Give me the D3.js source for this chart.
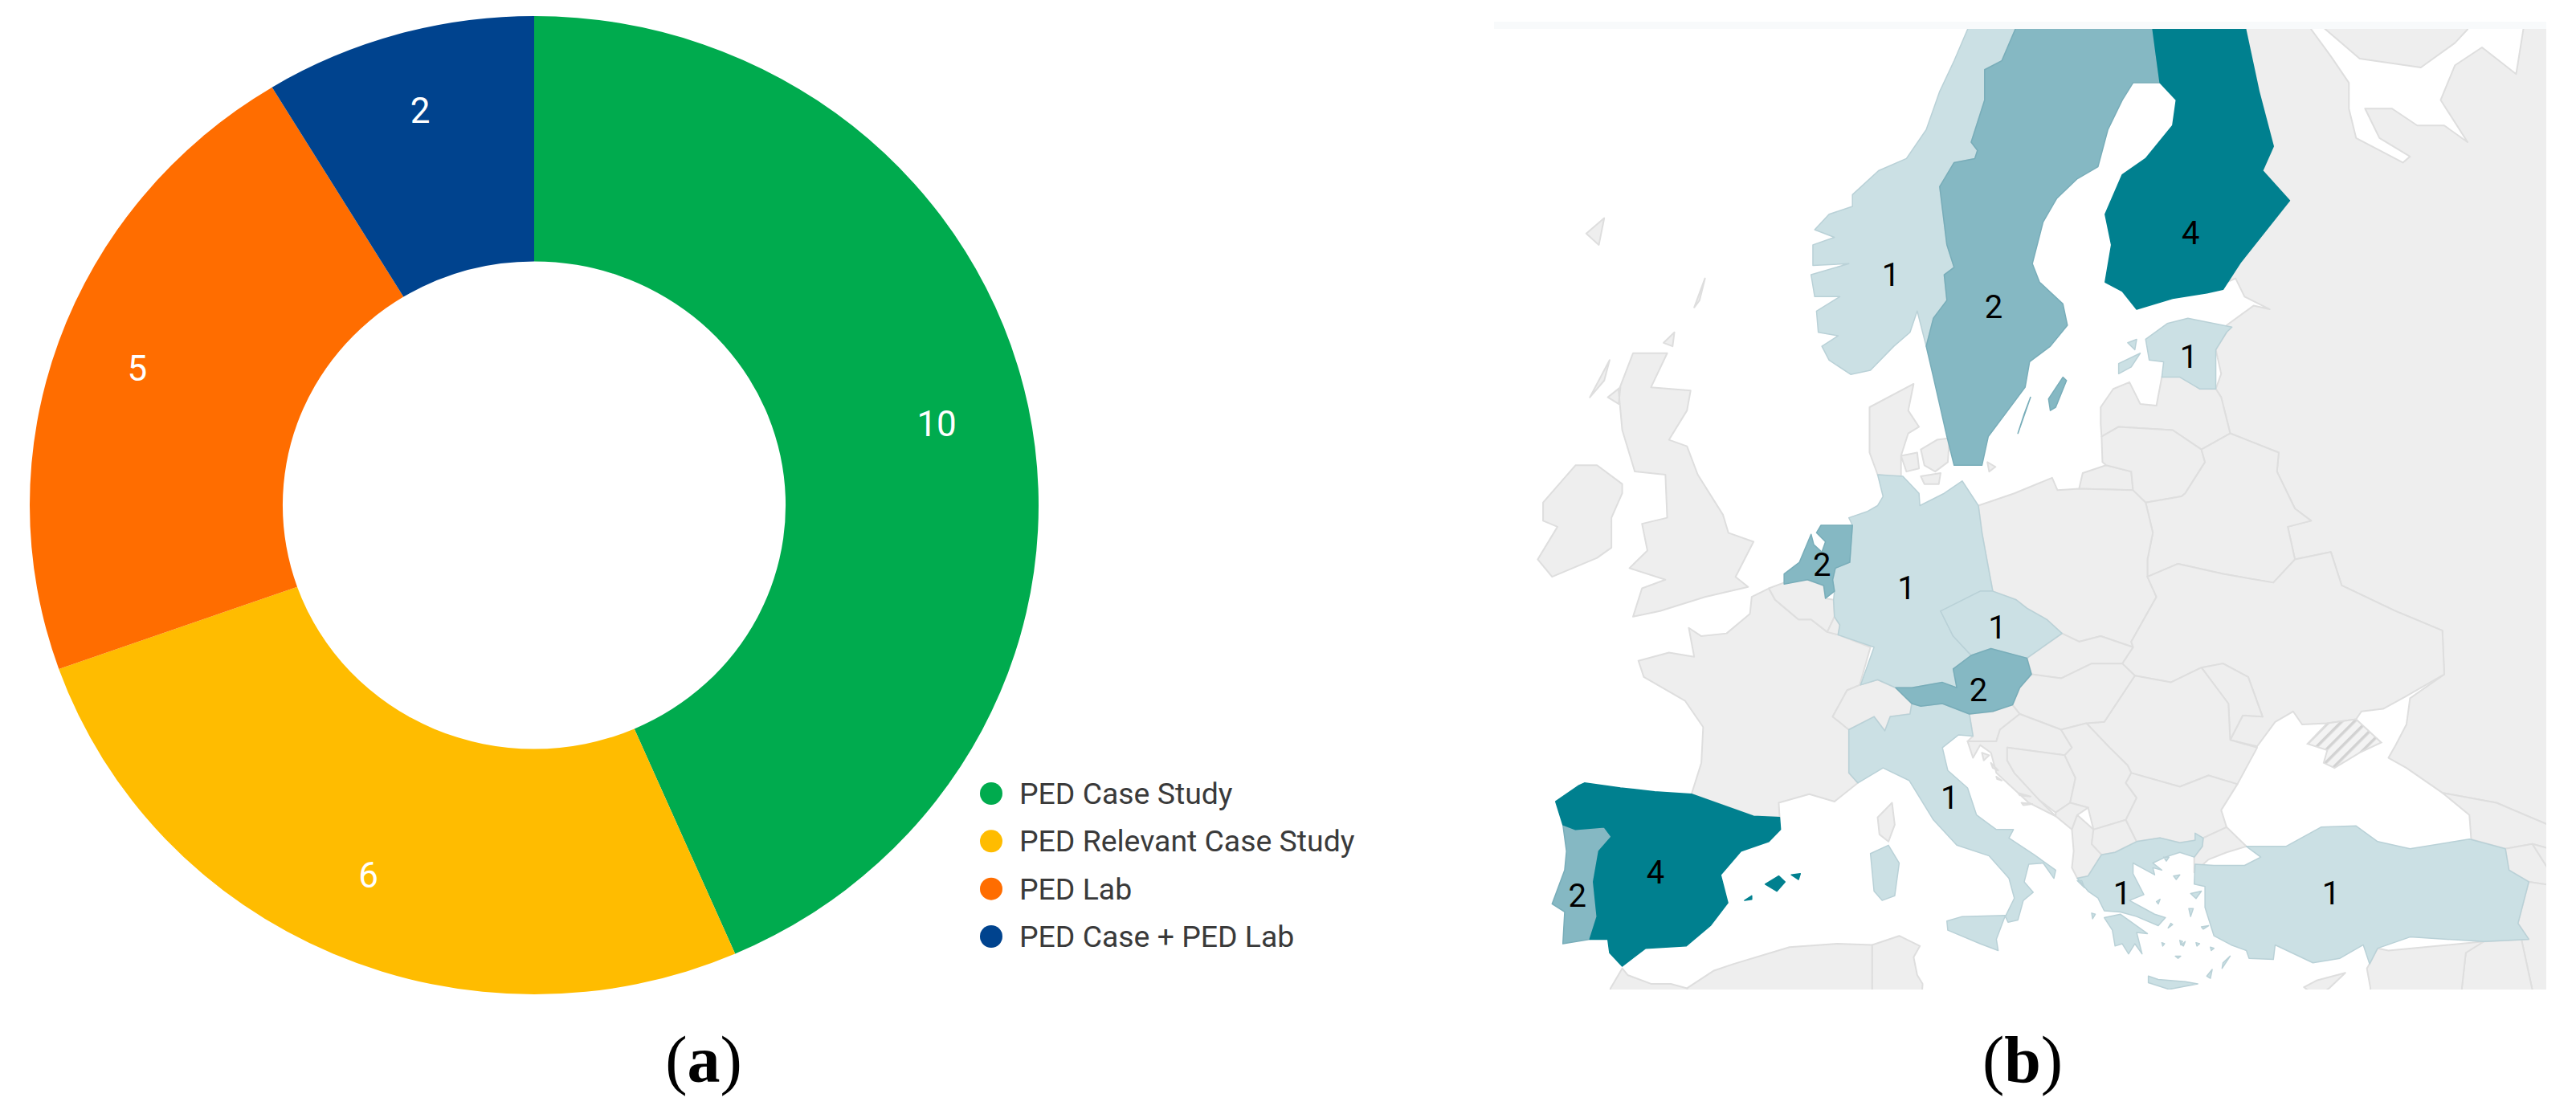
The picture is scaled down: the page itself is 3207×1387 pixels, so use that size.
<!DOCTYPE html>
<html>
<head>
<meta charset="utf-8">
<script src="https://cdn.jsdelivr.net/npm/d3@7"></script>
<style>
  html, body { margin: 0; background: #fff; }
  svg { display: block; }
</style>
</head>
<body>
<div id="chart"></div>
<script>
// (a) donut data
const caseTypes = ["PED Case Study", "PED Relevant Case Study", "PED Lab", "PED Case + PED Lab"];
const caseCounts = [10, 6, 5, 2];
const caseColors = ["#00ab4e", "#ffbc00", "#ff6d00", "#00438e"];

// (b) choropleth data, one count per labelled country
const labelNames = ["Finland", "Norway", "Sweden", "Estonia", "Germany", "Netherlands", "Czechia", "Austria", "Italy", "Spain", "Portugal", "Greece", "Turkey"];
const labelCounts = [4, 1, 2, 1, 1, 2, 1, 2, 1, 4, 2, 1, 1];
const labelLonLat = [[26, 61.9], [9.33, 60.8], [15.05, 59.9], [25.9, 58.5], [10.2, 51.1], [5.5, 51.9], [15.25, 49.7], [14.2, 47.4], [12.6, 43.2], [-3.75, 40.1], [-8.1, 39.1], [22.2, 39.2], [33.8, 39.2]];
const countColors = ["#cbe0e4", "#85b8c3", "#85b8c3", "#00808f"];
const countStrokes = ["#b9d1d7", "#78adb9", "#78adb9", "#00808f"];

// country outlines, lon/lat, rough hand-read
const greyLand = {
  Russia: [[[28,59.4],[29.5,59.95],[30.4,59.85],[29,60.2],[28.5,60.7],[27.8,60.55],[28.8,61.15],[31.5,62.75],[30,63.5],[30.6,64.1],[29.8,65.4],[29.06,66.8],[29.9,68],[32.4,68],[32.7,66.8],[33.8,66.2],[34.8,65.6],[34.8,65],[35.2,64.3],[36.5,64],[37.8,63.7],[38.2,63.85],[36.5,64.3],[35.7,65],[37.2,65],[38.6,64.6],[40.1,64.6],[41.4,64.2],[39.9,65.2],[40.7,66],[42.2,66.4],[44.1,65.8],[44.5,66.8],[44,68],[47,68],[47,41.9],[46.5,41.9],[43,43],[40,43.4],[38,44.4],[37,44.8],[37.4,45.3],[38,46.1],[38.2,47.1],[40.1,48],[40,49.6],[37.4,50.3],[34.4,51.2],[33.8,52.35],[31.8,52.1],[31.4,53.2],[32.7,53.4],[31.8,53.8],[30.8,55],[30.9,55.6],[28.2,56.2],[27.7,57.3],[27.4,57.55],[27.7,58],[27.4,58.7],[28,59.2]],
    [[33.1,68],[33.2,66.9],[35.4,66.15],[38.8,65.95],[40.7,66.5],[41.4,66.8],[41.5,68]],
    [[19.8,54.45],[22.8,54.4],[22.7,55],[21.3,55.2],[20,54.95]]],
  Latvia: [[[21,56.5],[21,57],[21.7,57.55],[22.6,57.75],[23.2,57.1],[24.1,57.05],[24.4,57.9],[25.3,58],[26.5,57.55],[27.4,57.55],[27.7,57.3],[28.2,56.2],[26.6,55.7],[25,56.3],[22,56.4],[21.05,56.1]]],
  Lithuania: [[[21.05,56.1],[22,56.4],[25,56.3],[26.6,55.7],[26.8,55.3],[25.7,54.3],[25.5,54.2],[23.5,54],[22.8,54.4],[22.7,55],[21.3,55.2],[21.1,55.3]]],
  Belarus: [[[23.6,52.1],[23.9,53],[23.5,54],[25.5,54.2],[25.7,54.3],[26.8,55.3],[26.6,55.7],[28.2,56.2],[30.9,55.6],[30.8,55],[31.8,53.8],[32.7,53.4],[31.4,53.2],[31.8,52.1],[30.6,51.3],[27.8,51.6],[25.3,51.95],[23.6,51.5]]],
  Poland: [[[14.2,53.9],[16.2,54.3],[18.3,54.8],[18.6,54.4],[19.8,54.45],[22.8,54.4],[23.5,54],[23.9,53],[23.6,52.1],[23.6,51.5],[24.1,50.8],[22.7,49.2],[22.8,49],[21,49.4],[19.8,49.2],[18.85,49.5],[18,50],[16.9,50.4],[16.3,50.7],[15,51],[14.7,52],[14.4,53]]],
  Ukraine: [[[22.8,49],[22.7,49.2],[24.1,50.8],[23.6,51.5],[25.3,51.95],[27.8,51.6],[30.6,51.3],[31.8,52.1],[33.8,52.35],[34.4,51.2],[37.4,50.3],[40,49.6],[40.1,48],[37.9,47.15],[36.7,46.7],[35.5,46.6],[35.2,46.3],[33.6,46.15],[32.2,46.1],[31.7,46.6],[30.7,46.2],[29.7,45.25],[28.2,45.5],[28.9,46.45],[30,46.4],[29.2,47.9],[27.8,48.4],[26.6,48.25],[24.9,47.7],[22.9,47.95],[22.2,48.4]]],
  Moldova: [[[26.6,48.25],[27.8,48.4],[29.2,47.9],[30,46.4],[28.9,46.45],[28.2,45.5],[28.1,46.9]]],
  Romania: [[[22.9,47.95],[24.9,47.7],[26.6,48.25],[28.1,46.9],[28.2,45.5],[29.7,45.2],[28.6,43.75],[27,44.1],[25.4,43.65],[22.7,44.2],[22.5,44.5],[21.5,45.2],[20.2,46.15],[21.2,46.2]]],
  Slovakia: [[[16.9,48.6],[18.85,49.5],[19.8,49.2],[21,49.4],[22.8,49],[22.2,48.4],[20.5,48.4],[18.8,47.85],[17.15,48]]],
  Hungary: [[[16.1,46.85],[16.5,47.5],[17.15,48],[18.8,47.85],[20.5,48.4],[22.2,48.4],[22.9,47.95],[21.2,46.2],[20.2,46.15],[18.8,45.9],[16.5,46.5]]],
  Slovenia: [[[13.7,46.5],[15,46.6],[16.1,46.85],[16.5,46.5],[15.4,45.9],[15.2,45.45],[13.6,45.45],[13.9,45.65]]],
  Croatia: [[[13.6,45.45],[15.2,45.45],[15.4,45.9],[16.5,46.5],[18.8,45.9],[19.4,45.2],[19,44.9],[15.8,45.2],[15.8,44.7],[16.2,44.2],[17.6,43.1],[18.5,42.45],[17,43],[15.2,44.2],[14.9,45],[14.3,45.3],[13.9,44.8]],
    [[14.4,45],[14.8,44.9],[14.5,44.7]], [[14.9,44.6],[15.3,44.3],[15,44.4]], [[16.4,43.4],[17.1,43.25],[16.5,43.3]], [[16.6,43],[17.2,42.95],[16.7,42.9]], [[15.2,44.05],[15.5,43.9],[15.25,43.95]]],
  Bosnia: [[[15.8,45.2],[19,44.9],[19.6,44],[19.3,43],[18.5,42.6],[17.6,43.1],[16.2,44.2],[15.8,44.7]]],
  Serbia: [[[18.8,45.9],[20.2,46.15],[21.5,45.2],[22.5,44.5],[22.7,44.2],[22.4,43.8],[23,43.2],[22.4,42.3],[20.6,41.9],[20.3,42.8],[19.3,43],[19.6,44],[19,44.9],[19.4,45.2]]],
  Montenegro: [[[18.5,42.6],[19.3,43],[20.3,42.8],[19.7,42.5],[19.4,41.9],[18.5,42.45]]],
  Albania: [[[19.4,41.9],[19.7,42.5],[20.6,41.9],[20.5,41.3],[21.05,40.85],[20.3,39.95],[19.7,39.85],[19.4,40.3],[19.5,41]]],
  Macedonia: [[[20.6,41.9],[22.4,42.3],[23,41.4],[21.8,40.95],[21.05,40.85],[20.5,41.3]]],
  Bulgaria: [[[22.4,42.3],[23,43.2],[22.4,43.8],[22.7,44.2],[25.4,43.65],[27,44.1],[28.6,43.75],[27.7,42.7],[28,42],[26.7,41.55],[26.25,41.45],[25.4,41.35],[24.3,41.55],[23,41.4]]],
  Thrace: [[[26.2,40.75],[26.65,41.2],[26.7,41.55],[28,42],[29.1,41.2],[28,40.95],[27,40.65],[26.2,40.1]]],
  France: [[[2.55,51.1],[2.9,50.7],[4.2,50],[4.9,50],[5.8,49.55],[6.4,49.45],[8.2,49],[7.6,47.6],[6.9,47.4],[6.1,46.4],[7,45.9],[7,44.2],[7.5,43.8],[6.2,43.05],[4.8,43.35],[3.1,43],[3.15,42.4],[1.7,42.45],[-1.75,43.35],[-1.2,44.6],[-1.1,46],[-2.1,47],[-4.4,47.9],[-4.7,48.5],[-3,48.8],[-1.6,48.65],[-1.9,49.7],[-1.2,49.4],[0.2,49.5],[1.5,50.2],[1.6,50.8]],
    [[8.6,42.4],[9.4,43],[9.55,42.1],[9.2,41.4],[8.7,41.7]]],
  Belgium: [[[2.55,51.1],[3.4,51.3],[4.7,51.4],[5.6,51.2],[5.7,50.75],[6.15,50.7],[6.2,50.1],[5.8,49.55],[4.9,50],[4.2,50],[2.9,50.7]]],
  Luxembourg: [[[5.8,49.55],[6.2,50.1],[6.5,49.8],[6.4,49.45]]],
  Switzerland: [[[6.1,46.4],[6.9,47.4],[7.6,47.6],[8.6,47.8],[9.6,47.5],[10.5,46.9],[10.4,46.5],[9.3,46.4],[9,45.85],[8.4,46.4],[7,45.9]]],
  Denmark: [[[8.6,54.9],[8.15,55.6],[8.15,57],[10.6,57.7],[10.3,56.9],[10.9,56.4],[10.3,56.2],[9.9,55.5],[9.9,54.8]],
    [[9.9,55.5],[10.8,55.6],[10.9,55.1],[10.2,55]], [[11,55.7],[11.9,56],[12.6,56.05],[12.5,55.3],[11.8,55],[11.2,55.2]], [[11,54.85],[12.1,54.95],[12,54.6],[11.2,54.6]], [[14.7,55.3],[15.15,55.15],[14.8,55]]],
  Ireland: [[[-10,54],[-8.2,55.2],[-7,55.2],[-5.6,54.6],[-5.6,54.3],[-6.2,53.5],[-6.2,52.5],[-7,52.15],[-9.5,51.5],[-10.3,52.1],[-9.2,53.2],[-10,53.4]]],
  Britain: [[[-5,50.1],[-3.5,50.3],[-1,50.8],[1.4,51.15],[0.7,51.5],[1.7,52.7],[0.3,53],[0,53.6],[-1.4,54.9],[-2,55.8],[-3,56],[-2,56.9],[-1.8,57.5],[-4,57.6],[-3.1,58.6],[-5,58.6],[-5.8,57.5],[-5.6,56.3],[-4.9,55],[-3.2,54.9],[-3.1,53.5],[-4.5,53.3],[-4.2,52.4],[-5.2,51.8],[-3.2,51.4],[-4.5,51.1]],
    [[-7.4,57.3],[-6.3,58.4],[-6.6,57.8]], [[-6.4,57.3],[-5.7,57.6],[-5.8,57.1]], [[-3.3,58.9],[-2.7,59.2],[-2.8,58.8]], [[-1.6,59.9],[-1,60.7],[-1.3,60.1]], [[-7.6,61.9],[-6.6,62.3],[-6.9,61.6]]],
  Georgia: [[[40,43.4],[43,43],[46.5,41.9],[46,41.1],[45,41.3],[43.5,41.1],[41.6,41.5],[41.5,42.5]]],
  Armenia: [[[43.5,41.1],[45,41.3],[46.5,39.5],[44.8,39.7],[43.7,40.2]]],
  Azerbaijan: [[[46,41.1],[46.5,41.9],[50,40],[50,38],[46.5,39],[46.5,39.5],[45,41.3]]],
  Iran: [[[44.8,39.7],[46.5,39.5],[46.5,39],[50,38],[50,30],[45.5,33],[44.2,37.9]]],
  Iraq: [[[44.8,37.2],[44.2,37.9],[45.5,33],[50,30],[42,30],[38.8,33.4],[41,34.4],[41.3,36.6],[42.3,37.1]]],
  Syria: [[[36.4,36.8],[37,36.7],[42.3,37.1],[41.3,36.6],[41,34.4],[38.8,33.4],[35.9,33.4],[36,35],[35.8,35.9],[35.95,36.1]]],
  Cyprus: [[[32.3,35.05],[33,35.35],[34.6,35.7],[33.7,35],[33,34.6]]],
  Morocco: [[[-6.25,35],[-5.6,35.9],[-5.3,35.6],[-4,35.2],[-2.9,35.2],[-2,35],[-1.6,34],[-6.5,34]]],
  Algeria: [[[-2,35],[-0.5,35.8],[0.6,36.1],[3.7,36.85],[6.35,37],[8.3,36.95],[8.3,34],[-1.6,34]]],
  Tunisia: [[[8.3,36.95],[9.8,37.35],[10.95,36.9],[10.6,36.4],[10.8,35.6],[11.1,35.2],[11,34],[8.3,34]]]
};

const colouredLand = {
  Finland: [[[24.3,65.6],[25.2,65.2],[25,64.6],[23.5,63.8],[22.2,63.4],[21.25,62.4],[21.6,61.6],[21.25,60.6],[22.2,60.35],[23,59.85],[25,60.15],[26.9,60.3],[27.8,60.4],[28.8,61.15],[31.5,62.75],[30,63.5],[30.6,64.1],[29.8,65.4],[29.06,66.8],[29.9,68],[23.6,68],[23.9,66.8],[24.1,66.2]]],
  Norway: [[[11.3,58.8],[10.8,59.8],[10.4,59.2],[9.5,58.8],[8.2,58.1],[7.1,57.98],[5.9,58.4],[5.5,58.8],[6.4,59.1],[5.3,59.2],[5.2,59.8],[6.5,60.2],[5.1,60.2],[4.9,60.8],[7,61.1],[5,61.05],[5,61.6],[6.2,61.8],[5.1,62],[5.9,62.4],[7.2,62.6],[7.2,62.9],[8.65,63.5],[10.2,63.8],[11.3,64.5],[12.05,65.4],[12.85,66.1],[13.6,66.8],[14.5,68],[16.3,68],[16.25,66.8],[15.5,66.1],[14.55,65.9],[14.55,65.2],[13.8,64.2],[14.15,64],[14,63.8],[12.85,63.7],[12.05,63.1],[12.45,61.6],[12.85,61],[12.3,60.8],[12.45,60.1],[11.7,59.6]]],
  Sweden: [[[24.3,65.6],[22.8,65.6],[22.2,65.2],[21.4,64.5],[20.85,63.6],[19.7,63.3],[18.55,62.8],[17.8,62.2],[17.2,61.1],[17.6,60.6],[18.9,60],[19.15,59.4],[18.2,58.8],[17.05,58.35],[16.8,57.6],[14.75,56.1],[14.4,55.2],[12.85,55.2],[12.45,56.1],[11.7,57.9],[11.3,58.8],[11.7,59.6],[12.45,60.1],[12.3,60.8],[12.85,61],[12.45,61.6],[12.05,63.1],[12.85,63.7],[14,63.8],[14.15,64],[13.8,64.2],[14.55,65.2],[14.55,65.9],[15.5,66.1],[16.25,66.8],[16.3,68],[23.6,68],[23.9,66.8],[24.1,66.2]],
    [[18.1,57.25],[18.9,57.9],[19.1,57.8],[18.5,57],[18.2,56.9]], [[16.4,56.2],[17.1,57.3],[16.75,56.8]]],
  Estonia: [[[28.3,59.35],[25.85,59.6],[24.7,59.45],[23.5,59],[23.7,58.4],[24.5,58.35],[24.4,57.9],[25.4,57.9],[26.5,57.55],[27.4,57.55],[27.4,58],[27.4,58.7],[28,59.2]],
    [[22,58.3],[23.2,58.6],[22.7,58.2],[22,58]], [[22.5,58.9],[23,59],[22.9,58.7]]],
  Germany: [[[8.6,54.9],[10,54.85],[10.9,54.3],[10.95,53.9],[12.3,54.3],[13.3,54.7],[14.2,53.9],[14.4,53],[14.7,52],[15,51],[14.3,51],[12.1,50.3],[12.8,49.4],[13.8,48.7],[12.8,48.2],[13,47.5],[12.2,47.7],[10.5,47.5],[9.6,47.5],[8.6,47.8],[7.65,47.6],[8.4,49],[6.4,49.45],[6.5,49.8],[6.2,50.1],[6.15,50.7],[6.2,51],[6.1,51.4],[6.25,51.8],[7.05,52],[7.2,53.25],[7,53.5],[8,53.7],[8.6,53.9],[8.9,54.2]]],
  Netherlands: [[[3.4,51.25],[3.4,51.6],[4.25,52],[4.9,52.95],[5.05,52.6],[5.5,52.35],[5.7,52.7],[5.2,53],[5.45,53.25],[7.2,53.25],[7.05,52],[6.25,51.8],[6.1,51.4],[6.2,51],[5.7,50.75],[5.6,51.2],[4.7,51.4]]],
  Czechia: [[[12.1,50.3],[14.3,51],[15,51],[16.3,50.7],[16.9,50.4],[18,50],[18.85,49.5],[16.9,48.6],[14.9,48.95],[13.8,48.7],[12.8,49.4]]],
  Austria: [[[9.6,47.5],[10.5,47.5],[12.2,47.7],[13,47.5],[12.8,48.2],[13.8,48.7],[14.9,48.95],[16.9,48.6],[17.15,48],[16.5,47.5],[16.1,46.85],[15,46.6],[13.7,46.5],[12.2,46.9],[11,46.8],[10.5,46.9]]],
  Italy: [[[7,44.2],[7,45.9],[8.4,46.4],[9,45.85],[9.3,46.4],[10.4,46.5],[10.5,46.9],[11,46.8],[12.2,46.9],[13.7,46.5],[13.9,45.65],[13.1,45.7],[12.2,45.2],[12.5,44.3],[13.6,43.6],[14.1,42.5],[15.2,41.9],[16.15,41.9],[15.9,41.55],[17.3,40.85],[18.5,40.2],[18.4,39.85],[17.8,40.5],[17,40.45],[16.75,39.7],[17.25,39.25],[16.7,38.9],[16.4,38.05],[15.85,37.95],[15.7,38.2],[16.2,39],[15.9,39.85],[14.8,40.8],[13,41.25],[11.7,42.3],[10.35,43.9],[8.9,44.4],[7.5,43.8]],
    [[12.45,38],[13.3,38.2],[15.7,38.25],[15.2,37.2],[15.3,36.7],[14.3,37],[12.5,37.6]], [[8.2,40.9],[9.2,41.25],[9.8,40.5],[9.55,39.1],[8.85,38.9],[8.4,39.3]]],
  Spain: [[[-9.3,43.05],[-8,43.7],[-7.7,43.8],[-5.7,43.6],[-3.8,43.45],[-1.75,43.35],[1.7,42.45],[3.15,42.4],[3.2,41.9],[2.55,41.4],[1,41],[-0.13,40],[0.27,38.8],[-0.7,37.8],[-2.05,36.9],[-4.3,36.8],[-5.6,36],[-6.3,36.6],[-6.4,37.2],[-7.4,37.2],[-7,38.2],[-7.2,39.7],[-6.9,41],[-6.2,41.6],[-6.6,42],[-8.2,41.9],[-8.9,42.1]],
    [[2.35,39.6],[3.1,39.95],[3.45,39.7],[3,39.3]], [[3.8,40],[4.3,40.05],[4.2,39.8]], [[1.2,38.9],[1.6,39.1],[1.6,38.95]]],
  Portugal: [[[-8.9,42.1],[-8.2,41.9],[-6.6,42],[-6.2,41.6],[-6.9,41],[-7.2,39.7],[-7,38.2],[-7.4,37.2],[-8.9,37],[-8.8,38.4],[-9.5,38.75],[-8.8,40.2],[-8.7,41]]],
  Greece: [[[19.7,39.85],[20.3,39.95],[21.05,40.85],[21.8,40.95],[23,41.4],[24.3,41.55],[25.4,41.35],[26.25,41.45],[26.25,41.75],[26.7,41.55],[26.65,41.2],[26.2,40.75],[25.4,40.95],[24.6,40.75],[23.9,40.5],[24.4,40.2],[23.9,40.3],[24,40],[23.4,40.25],[22.8,40.5],[22.8,40.05],[23.4,39.15],[22.6,38.9],[24,38.3],[24.6,38.15],[24.2,37.8],[23,38.2],[22.1,38.4],[21.2,38.45],[20.85,39],[20.3,39.3]],
    [[21.2,38.15],[22.1,38.3],[23.6,37.45],[23,37.5],[23.3,36.55],[22.9,37],[22.55,36.55],[22.2,37],[21.8,36.9],[21.65,37.6]],
    [[23.65,35.55],[24.2,35.4],[25.7,35.3],[26.4,35.2],[24.8,34.95],[23.65,35.25]],
    [[26,39.2],[26.6,39.3],[26.3,38.98]], [[25.9,38.55],[26.15,38.55],[26,38.2]], [[26.6,37.75],[27,37.8],[26.7,37.65]],
    [[27.8,36.15],[28.2,36.45],[27.75,35.9]], [[25.4,37.15],[25.55,37.1],[25.45,36.95]], [[24.9,37.9],[25,37.85],[24.75,37.7]], [[25.15,36.45],[25.45,36.45],[25.3,36.35]], [[20.5,38.35],[20.7,38.3],[20.55,38.1]], [[19.7,39.75],[19.95,39.75],[20.1,39.45]], [[24.5,40.75],[24.8,40.75],[24.65,40.58]], [[25.05,39.95],[25.4,40],[25.2,39.8]], [[27.1,36.85],[27.3,36.8],[27.15,36.7]], [[26.9,35.55],[27.2,35.85],[27.1,35.45]], [[24.4,37.05],[24.55,37],[24.45,36.9]], [[26.3,37.05],[26.5,37],[26.35,36.9]], [[24.1,38.85],[24.3,38.95],[24.2,38.75]], [[25.5,36.95],[25.7,37.1],[25.6,36.9]]],
  Turkey: [[[29.1,41.2],[31.3,41.2],[33.25,42],[35.2,42.05],[36.4,41.4],[38.2,41.1],[41.5,41.5],[43.5,41.1],[43.7,40.2],[44.8,39.7],[44.2,37.9],[44.8,37.2],[42.3,37.1],[38.2,37.3],[36.4,36.8],[35.95,36.1],[35.6,36.95],[34.3,36.35],[32.8,36.15],[30.7,36.95],[30.6,36.3],[29.25,36.35],[29.1,36.7],[28.25,36.95],[27.3,37.35],[26.8,38.6],[26.8,39.5],[26.2,39.6],[26.25,40.45],[27.3,40.4],[29,40.4],[29.9,40.75]]]
};

const crimea = [[33.6,46.15],[35.2,46.3],[36.6,45.4],[35.4,45],[34,44.4],[33.4,44.6],[33.6,45.1],[32.5,45.35]];

const pageWidth = 3207;
const pageHeight = 1387;

const svg = d3.select("#chart")
  .append("svg")
  .attr("width", pageWidth)
  .attr("height", pageHeight)
  .attr("viewBox", `0 0 ${pageWidth} ${pageHeight}`);

const defs = svg.append("defs");

defs.append("clipPath")
  .attr("id", "map-clip")
  .append("rect")
  .attr("x", 1860)
  .attr("y", 36)
  .attr("width", 1310)
  .attr("height", 1196);

const hatch = defs.append("pattern")
  .attr("id", "hatch")
  .attr("patternUnits", "userSpaceOnUse")
  .attr("width", 11)
  .attr("height", 11)
  .attr("patternTransform", "rotate(-45)");
hatch.append("rect").attr("width", 11).attr("height", 11).attr("fill", "#f3f3f3");
hatch.append("rect").attr("width", 11).attr("height", 3.5).attr("fill", "#d2d2d2");

// Donut, panel (a). The picture is a bit wider than tall so the arcs get squeezed.
const donut = {cx: 665, cy: 629, rx: 628, ry: 609, innerRatio: 0.4985};
const labelRatios = [0.815, 0.825, 0.835, 0.838];
const pie = d3.pie().sort(null)(caseCounts);
const arc = d3.arc().innerRadius(donut.rx * donut.innerRatio).outerRadius(donut.rx);
const squeeze = donut.ry / donut.rx;

function labelPoint(d, i) {
  const r = donut.rx * labelRatios[i];
  return d3.arc().innerRadius(r).outerRadius(r).centroid(d);
}

const donutG = svg.append("g")
  .attr("transform", `translate(${donut.cx},${donut.cy})`);

donutG.append("g")
  .attr("transform", `scale(1,${squeeze})`)
  .selectAll("path")
  .data(pie)
  .enter()
  .append("path")
  .attr("d", arc)
  .attr("fill", (d, i) => caseColors[i]);

donutG.selectAll("text")
  .data(pie)
  .enter()
  .append("text")
  .attr("x", (d, i) => labelPoint(d, i)[0])
  .attr("y", (d, i) => labelPoint(d, i)[1] * squeeze)
  .attr("text-anchor", "middle")
  .attr("dominant-baseline", "central")
  .attr("font-family", "Roboto")
  .attr("font-size", 44)
  .attr("fill", "#fff")
  .text(d => d.value);

// Legend
const legendY = d3.scalePoint().domain(caseTypes).range([988, 1166]);
const legend = svg.append("g").selectAll("g")
  .data(caseTypes)
  .enter()
  .append("g")
  .attr("transform", d => `translate(1234,${legendY(d)})`);

legend.append("circle")
  .attr("r", 14)
  .attr("fill", (d, i) => caseColors[i]);

legend.append("text")
  .attr("x", 35)
  .attr("dy", "0.35em")
  .attr("font-family", "Roboto")
  .attr("font-size", 37.4)
  .attr("fill", "#3a3a3a")
  .text(d => d);

// Map, panel (b)
svg.append("rect")
  .attr("x", 1860)
  .attr("y", 27)
  .attr("width", 1310)
  .attr("height", 9)
  .attr("fill", "#f8fafb");

const projection = d3.geoMercator()
  .scale(1283)
  .translate([2145, 2068]);

const ringPath = d3.line().curve(d3.curveLinearClosed);
const shapePath = rings => rings.map(r => ringPath(r.map(p => projection(p)))).join("");

const mapG = svg.append("g").attr("clip-path", "url(#map-clip)");

mapG.append("g")
  .selectAll("path")
  .data(Object.entries(greyLand))
  .enter()
  .append("path")
  .attr("d", d => shapePath(d[1]))
  .attr("fill", "#eeeeee")
  .attr("stroke", "#dedede")
  .attr("stroke-width", 2)
  .attr("stroke-linejoin", "round");

mapG.append("path")
  .attr("d", shapePath([crimea]))
  .attr("fill", "url(#hatch)")
  .attr("stroke", "#dedede")
  .attr("stroke-width", 2);

const countOf = name => labelCounts[labelNames.indexOf(name)];

mapG.append("g")
  .selectAll("path")
  .data(Object.entries(colouredLand).sort((a, b) => countOf(a[0]) - countOf(b[0])))
  .enter()
  .append("path")
  .attr("d", d => shapePath(d[1]))
  .attr("fill", d => countColors[countOf(d[0]) - 1])
  .attr("stroke", d => countStrokes[countOf(d[0]) - 1])
  .attr("stroke-width", 1.5)
  .attr("stroke-linejoin", "round");

mapG.append("g")
  .selectAll("text")
  .data(labelNames)
  .enter()
  .append("text")
  .attr("x", (d, i) => projection(labelLonLat[i])[0])
  .attr("y", (d, i) => projection(labelLonLat[i])[1])
  .attr("text-anchor", "middle")
  .attr("dominant-baseline", "central")
  .attr("font-family", "Roboto")
  .attr("font-size", 40)
  .attr("fill", "#000")
  .text((d, i) => labelCounts[i]);

// Sub-figure captions
const captions = [["a", 876], ["b", 2518]];
const captionText = svg.append("g").selectAll("text")
  .data(captions)
  .enter()
  .append("text")
  .attr("x", d => d[1])
  .attr("y", 1347)
  .attr("text-anchor", "middle")
  .attr("font-family", "Liberation Serif")
  .attr("font-size", 82)
  .attr("fill", "#000");
captionText.append("tspan").text("(");
captionText.append("tspan").attr("font-weight", "bold").text(d => d[0]);
captionText.append("tspan").text(")");
</script>
</body>
</html>
